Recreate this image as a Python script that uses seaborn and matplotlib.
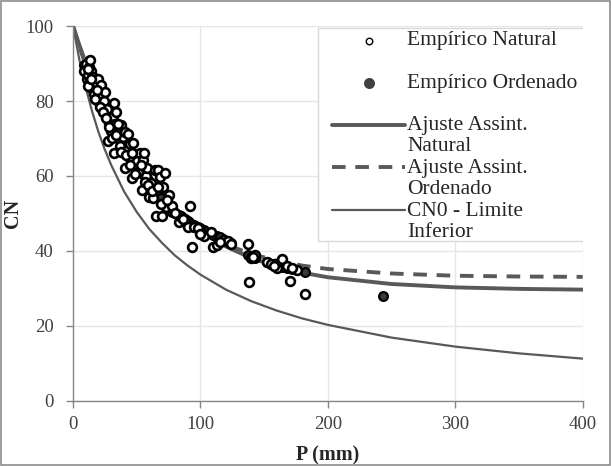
import matplotlib
matplotlib.use("Agg")
import matplotlib.pyplot as plt
import seaborn as sns
import pandas as pd
from matplotlib.patches import Rectangle

# precipitation P (mm) and CN, natural pairing
p_natural = [9, 10, 10.5, 11, 12, 12.5, 13, 13.5, 14, 15,
             15.5, 16, 17, 18, 18.5, 19.5, 20, 21, 22, 23,
             24, 25, 26, 27, 27.5, 28, 29, 30, 31, 32,
             32.5, 33, 34, 35, 36, 37, 38, 38.8, 39.5, 40.5,
             41, 42, 43, 44, 45, 46, 47, 48, 50, 51,
             52.5, 54, 55, 56, 57, 58, 60, 61, 63, 64,
             65.5, 66.5, 68, 70, 71, 72, 73, 75, 78, 83,
             85, 88, 90, 92, 93, 95, 98, 103, 108, 110,
             113, 118, 122, 124, 137, 138, 140, 143, 152, 155,
             160, 164, 168, 170, 176, 182,
             11.5, 12, 14.5, 16.5, 17.5, 19, 21.5, 23.5, 25.5, 28.5,
             30.5, 33.5, 35.5, 37.5, 41.5, 44.5, 46.5, 49, 53, 56.5,
             59, 62, 67, 69, 74, 80, 86, 100, 115, 141,
             158, 172]
cn_natural = [88, 89.5, 90, 86, 87, 89, 85, 90.9, 88, 84,
              86.5, 83, 85, 82, 84.5, 80, 86, 81, 84.3, 78,
              80, 82.5, 76, 78, 69.2, 74, 75, 72, 76, 79.4,
              66, 74, 77.2, 70, 72, 68, 73.6, 71, 70.5, 71.8,
              62.1, 67, 71.1, 65, 68.5, 59.4, 68.7, 63, 64, 61,
              66, 56.3, 64.3, 66, 60, 62, 54.5, 58, 54, 61.6,
              49.3, 61.6, 59.8, 49.3, 57, 60.7, 51.8, 55, 52, 47.8,
              49, 48, 46.5, 52.0, 41.0, 46.5, 46, 44, 45, 41.1,
              41.6, 43, 42.7, 41.9, 41.8, 31.7, 38, 39, 37, 36.5,
              35.5, 37.9, 36, 32.1, 35, 28.6,
              84, 88.5, 86, 82, 80.5, 83, 78.5, 77, 75.5, 73,
              70, 71, 74, 66.5, 65.5, 63, 66, 60.5, 63, 58.5,
              57.5, 56, 57, 52.5, 53.5, 50, 48.5, 44.5, 42.5, 38.5,
              36, 35.5]

# ordered pairing
p_ordered = [9, 10, 11, 12, 13, 14, 15, 16, 17, 18,
             19.5, 20, 21, 22, 23, 24, 25, 26, 27, 28,
             29, 30, 31, 32, 33, 34, 35, 36, 37, 38,
             39.5, 40.5, 42, 43, 44, 45, 46, 47, 48, 50,
             51, 52.5, 54, 55, 56, 57, 58, 60, 61, 63,
             64, 65.5, 66.5, 68, 70, 71, 72, 73, 75, 78,
             83, 85, 88, 90, 92, 95, 98, 103, 108, 110,
             113, 118, 122, 124, 137, 140, 143, 152, 155, 160,
             164, 168, 176, 182, 243,
             11.5, 14.5, 16.5, 19, 21.5, 23.5, 25.5, 28.5, 30.5, 33.5,
             35.5, 37.5, 41.5, 44.5, 46.5, 49, 53, 56.5, 59, 62,
             67, 69, 74, 80, 86, 100, 115, 141, 158, 172]
cn_ordered = [89.5, 89, 88.5, 88, 87.5, 86.5, 86, 85.5, 84.5, 84,
              83, 82.5, 81.8, 81, 80.3, 79.6, 79, 78.2, 77.5, 76.8,
              76, 75.5, 74.8, 74, 73.4, 72.8, 72.2, 71.5, 71, 70.3,
              69.5, 68.9, 68, 67.4, 66.8, 66.2, 65.6, 65, 64.5, 63.5,
              63, 62.2, 61.4, 60.8, 60.3, 59.8, 59.2, 58.4, 57.8, 57,
              56.4, 55.7, 55.2, 54.5, 53.6, 53.1, 52.6, 52.2, 51.4, 50.5,
              49.6, 49.2, 48.5, 48, 47.5, 47, 46.4, 45.5, 44.8, 44.3,
              44, 43.2, 42.5, 42, 39, 38.5, 38, 37, 36.6, 36.2,
              35.8, 35.5, 35, 34.5, 28,
              88.2, 86.2, 85, 83.4, 81.4, 80, 78.6, 76.4, 75.1, 73.1,
              71.8, 70.6, 68.3, 66.5, 65.3, 64, 61.9, 60, 58.8, 57.4,
              54.9, 54, 51.8, 50.1, 48.9, 46, 43.6, 38.3, 36.4, 35.2]

# curves read along P
p_curve = [0, 5, 10, 15, 20, 25, 30, 40, 50, 60, 70, 80, 90, 100,
           120, 140, 160, 180, 200, 250, 300, 350, 400]
cn_fit_natural = [100, 94.9, 90.2, 85.8, 81.7, 78.0, 74.5, 68.2, 62.8, 58.2, 54.2, 50.7, 47.8, 45.2,
                  41.2, 38.1, 35.9, 34.2, 33.0, 31.2, 30.3, 29.9, 29.7]
cn_fit_ordered = [100, 94.5, 89.5, 84.9, 80.7, 76.8, 73.2, 66.9, 61.6, 57.2, 53.4, 50.2, 47.5, 45.2,
                  41.7, 39.2, 37.4, 36.1, 35.2, 34.0, 33.4, 33.2, 33.1]
cn_zero = [100, 91.0, 83.6, 77.2, 71.7, 67.0, 62.9, 55.9, 50.4, 45.8, 42.1, 38.8, 36.1, 33.7,
           29.7, 26.6, 24.1, 22.0, 20.3, 16.9, 14.5, 12.7, 11.3]

df_nat = pd.DataFrame({'P': p_natural, 'CN': cn_natural})
df_ord = pd.DataFrame({'P': p_ordered, 'CN': cn_ordered})
df_curve = pd.DataFrame({'P': p_curve, 'nat': cn_fit_natural, 'ord': cn_fit_ordered, 'cn0': cn_zero})

sns.set_style('white')
plt.rcParams['font.family'] = ['Liberation Serif', 'DejaVu Serif']

fig = plt.figure(figsize = (6.11, 4.66), dpi = 100)
ax = fig.add_axes([0.1195, 0.1395, 0.8342, 0.8047])

line_color = '#595959'

sns.lineplot(data = df_curve, x = 'P', y = 'nat', ax = ax, color = line_color, linewidth = 2.8,
             label = 'Ajuste Assint.\nNatural', zorder = 2)
sns.lineplot(data = df_curve, x = 'P', y = 'ord', ax = ax, color = line_color, linewidth = 2.8,
             linestyle = (0, (3.5, 2.5)), label = 'Ajuste Assint.\nOrdenado', zorder = 2)
sns.lineplot(data = df_curve, x = 'P', y = 'cn0', ax = ax, color = line_color, linewidth = 1.6,
             label = 'CN0 - Limite\nInferior', zorder = 2)

sns.scatterplot(data = df_ord, x = 'P', y = 'CN', ax = ax, color = '#3a3a3a', edgecolor = 'black',
                linewidth = 1.6, s = 40, label = 'Empírico Ordenado', zorder = 3)
sns.scatterplot(data = df_nat, x = 'P', y = 'CN', ax = ax, color = 'white', edgecolor = 'black',
                linewidth = 1.9, s = 40, label = 'Empírico Natural', zorder = 4)

ax.set_xlim(0, 400)
ax.set_ylim(0, 100)
ax.set_xticks([0, 100, 200, 300, 400])
ax.set_yticks([0, 20, 40, 60, 80, 100])
ax.grid(True, color = '#e6e6e6', linewidth = 1)
ax.set_axisbelow(True)
for side in ['top', 'right']:
    ax.spines[side].set_visible(False)
for side in ['left', 'bottom']:
    ax.spines[side].set_color('#868686')
    ax.spines[side].set_linewidth(1)
ax.tick_params(axis = 'both', which = 'major', direction = 'out', length = 5, width = 1,
               color = '#868686', labelsize = 13.5, labelcolor = '#404040',
               left = True, bottom = True)
ax.tick_params(axis = 'x', pad = 6)
ax.tick_params(axis = 'y', pad = 9)
ax.set_xlabel('P (mm)', fontsize = 14.5, fontweight = 'bold', labelpad = 9)
ax.set_ylabel('CN', fontsize = 14.5, fontweight = 'bold', labelpad = 2)

# legend box like the Excel one: frame drawn separately, handle at first text line
legend_frame = Rectangle((318 / 611, 1 - 241 / 466), 272 / 611, 213 / 466,
                         transform = fig.transFigure, facecolor = 'white',
                         edgecolor = '#d9d9d9', linewidth = 1, zorder = 5)
ax.add_patch(legend_frame)

handles, labels = ax.get_legend_handles_labels()
hmap = dict(zip(labels, handles))
keys = ['Empírico Natural', 'Empírico Ordenado', 'Ajuste Assint.\nNatural',
        'Ajuste Assint.\nOrdenado', 'CN0 - Limite\nInferior']
shown = ['Empírico Natural\n ', 'Empírico Ordenado\n ', 'Ajuste Assint.\nNatural',
         'Ajuste Assint.\nOrdenado', 'CN0 - Limite\nInferior']
leg = ax.legend([hmap[k] for k in keys], shown, loc = 'upper left',
                bbox_to_anchor = (332 / 611, 1 - 31 / 466), bbox_transform = fig.transFigure,
                frameon = False, fontsize = 15.5, handlelength = 3.4, handleheight = 0.9,
                handletextpad = 0.1, labelspacing = 0.12, borderpad = 0, borderaxespad = 0)
leg.set_zorder(6)
for t in leg.get_texts():
    t.set_color('#262626')
    t.set_linespacing(1.15)
for row in leg._legend_handle_box.get_children()[0].get_children():
    row.align = 'top'
# smaller markers in legend
leg.legend_handles[0].set_sizes([22])
leg.legend_handles[0].set_linewidth(1.0)
leg.legend_handles[1].set_sizes([40])
leg.legend_handles[1].set_facecolor('#404040')
leg.legend_handles[1].set_edgecolor('#404040')

fig.patches.append(Rectangle((0.002, 0.002), 0.996, 0.996, transform = fig.transFigure,
                             fill = False, edgecolor = '#8c8c8c', linewidth = 1.2))

fig.savefig('out.png', dpi = 100)
